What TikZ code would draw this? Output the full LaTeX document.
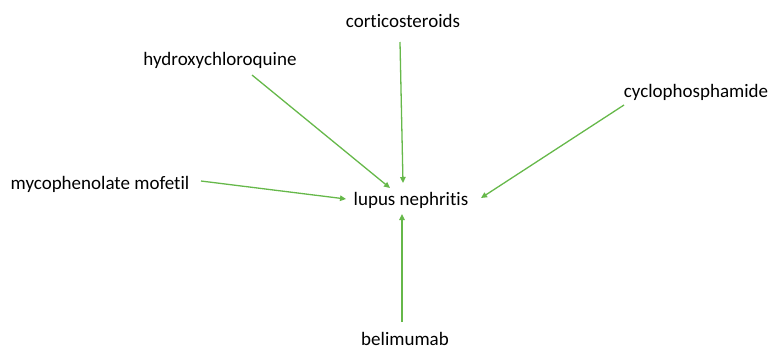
\documentclass[tikz,border=0pt]{standalone}
\usepackage{fontspec}
\setmainfont{Carlito}[Ligatures={NoCommon}]
\usetikzlibrary{arrows.meta,calc}
\definecolor{arrgreen}{HTML}{66B84A}
\tikzset{
  lbl/.style={inner sep=0pt, font=\fontsize{19}{22}\selectfont, text=black},
  arr/.style={draw=arrgreen, line width=1.3pt, -{Triangle[length=6pt,width=5.5pt]}}
}
\begin{document}
\begin{tikzpicture}[x=1pt,y=-1pt]
\useasboundingbox (0,0) rectangle (769,349);
\node[lbl] (lupus) at (411,200) {lupus nephritis};
\node[lbl] (cort) at (403,21) {corticosteroids};
\node[lbl] (hydro) at (220,60) {hydroxychloroquine};
\node[lbl] (cyclo) at (696,92) {cyclophosphamide};
\node[lbl] (myco) at (100,184) {mycophenolate mofetil};
\node[lbl] (beli) at (405,339) {belimumab};
\draw[arr] ($(cort)+(-3,21)$) -- ($(lupus)+(-8,-17)$);
\draw[arr] ($(hydro)+(32,15)$) -- ($(lupus)+(-21,-12)$);
\draw[arr] ($(cyclo)+(-72,13)$) -- ($(lupus)+(70,-2)$);
\draw[arr] ($(myco)+(101,-3)$) -- ($(lupus)+(-65,-1)$);
\draw[arr] ($(beli)+(-3,-17)$) -- ($(lupus)+(-9,14)$);
\end{tikzpicture}
\end{document}
